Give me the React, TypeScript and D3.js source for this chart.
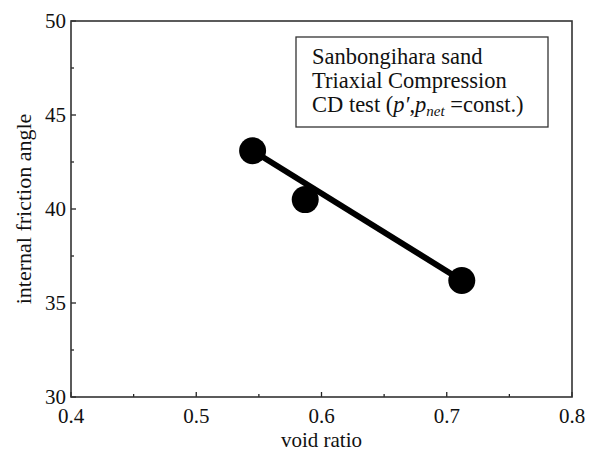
import React from "react";
import * as d3 from "d3";

const voidRatio = [0.545, 0.587, 0.712];
const frictionAngle = [43.1, 40.5, 36.2];
const fitVoid = [0.545, 0.712];
const fitAngle = [43.1, 36.2];
const xTicks = [0.4, 0.5, 0.6, 0.7, 0.8];
const yTicks = [30, 35, 40, 45, 50];
const xMinor = [0.45, 0.55, 0.65, 0.75];
const yMinor = [32.5, 37.5, 42.5, 47.5];
const legendLines = ["Sanbongihara sand", "Triaxial Compression"];

const FONT = '"Liberation Serif", "Times New Roman", Tinos, "DejaVu Serif", serif';

export default function App() {
  const W = 606, H = 451;
  const m = { left: 71, right: 572, top: 21, bottom: 397 };
  const x = d3.scaleLinear().domain([0.4, 0.8]).range([m.left, m.right]);
  const y = d3.scaleLinear().domain([30, 50]).range([m.bottom, m.top]);
  const line = d3.line<number>().x((d, i) => x(fitVoid[i])).y((d, i) => y(fitAngle[i]));
  const ts = { fontFamily: FONT };
  return (
    <svg width={W} height={H} style={{ position: "absolute", left: 0, top: 0, fontFamily: FONT }}>
      <rect x={0} y={0} width={W} height={H} fill="#fff" />
      {xTicks.map((t) => (
        <g key={"xt" + t}>
          <line x1={x(t)} x2={x(t)} y1={m.bottom} y2={m.bottom - 5} stroke="#222" strokeWidth={1.3} />
          <text x={x(t)} y={m.bottom + 26} textAnchor="middle" fontSize={21} fill="#111" style={ts}>{t.toFixed(1)}</text>
        </g>
      ))}
      {xMinor.map((t) => (
        <line key={"xm" + t} x1={x(t)} x2={x(t)} y1={m.bottom} y2={m.bottom - 3} stroke="#222" strokeWidth={1.3} />
      ))}
      {yTicks.map((t) => (
        <g key={"yt" + t}>
          <line x1={m.left} x2={m.left + 5} y1={y(t)} y2={y(t)} stroke="#222" strokeWidth={1.3} />
          <text x={m.left - 5} y={y(t) + 7} textAnchor="end" fontSize={21} fill="#111" style={ts}>{t}</text>
        </g>
      ))}
      {yMinor.map((t) => (
        <line key={"ym" + t} x1={m.left} x2={m.left + 3} y1={y(t)} y2={y(t)} stroke="#222" strokeWidth={1.3} />
      ))}
      <rect x={m.left} y={m.top} width={m.right - m.left} height={m.bottom - m.top} fill="none" stroke="#333" strokeWidth={1.6} />
      <path d={line(fitVoid) || ""} fill="none" stroke="#000" strokeWidth={6} />
      {voidRatio.map((v, i) => (
        <circle key={"p" + i} cx={x(v)} cy={y(frictionAngle[i])} r={13.5} fill="#000" />
      ))}
      <rect x={296} y={37} width={252} height={90} fill="#fff" stroke="#333" strokeWidth={1.3} />
      <text x={312} y={64} fontSize={22.5} fill="#111" style={ts}>{legendLines[0]}</text>
      <text x={312} y={88} fontSize={22.5} fill="#111" style={ts}>{legendLines[1]}</text>
      <text x={312} y={112} fontSize={22.5} fill="#111" style={ts}>
        CD test (<tspan fontStyle="italic">p′</tspan>,<tspan fontStyle="italic">p</tspan>
        <tspan fontStyle="italic" fontSize={15} dy={4}>net</tspan>
        <tspan dy={-4}> =const.)</tspan>
      </text>
      <text x={(m.left + m.right) / 2} y={447} textAnchor="middle" fontSize={21} fill="#111" style={ts}>void ratio</text>
      <text transform={`translate(31,${(m.top + m.bottom) / 2}) rotate(-90)`} textAnchor="middle" fontSize={22} fill="#111" style={ts}>internal friction angle</text>
    </svg>
  );
}
